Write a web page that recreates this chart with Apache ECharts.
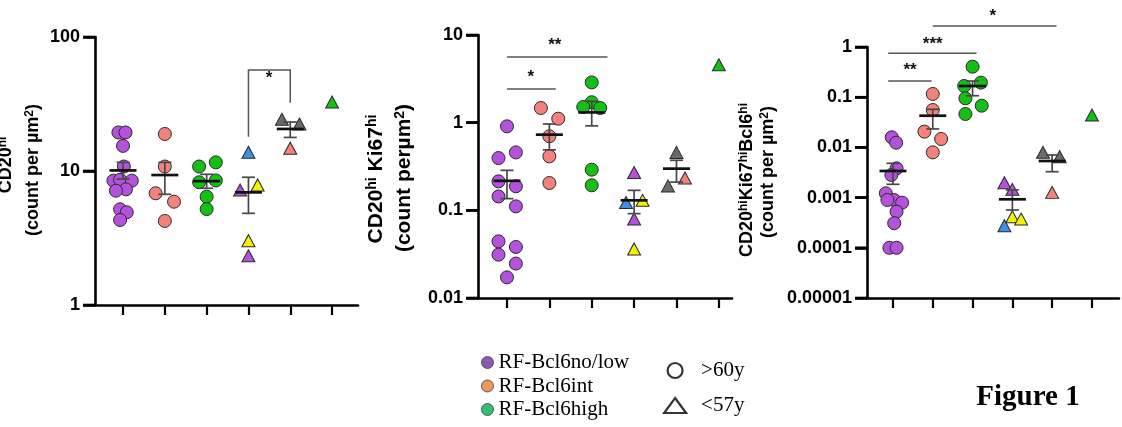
<!DOCTYPE html>
<html><head><meta charset="utf-8">
<script src="https://cdn.jsdelivr.net/npm/echarts@6/dist/echarts.min.js"></script>
<style>html,body{margin:0;padding:0;background:#fff}#c{width:1122px;height:427px}</style>
</head><body><div id="c"></div>
<script>
// ---------- data ----------
const groupNames = ['RF-Bcl6no/low', 'RF-Bcl6int', 'RF-Bcl6high'];
const ageNames = ['>60y', '<57y'];
const groupAge = [0, 0, 0, 1, 1, 1];           // 0 = >60y (circle), 1 = <57y (triangle)
const positions = [1, 2, 3, 4, 5, 6];

// Panel 1: CD20hi
const p1Ticks = ['1', '10', '100'];
const p1Values = [
  [19.4, 19.4, 15.4, 10.8, 8.47, 8.6, 8.47, 7.3, 7.13, 5.18, 4.92, 4.31],
  [18.9, 10.8, 6.82, 5.9, 4.24],
  [10.8, 11.6, 8.24, 8.5, 6.43, 5.2],
  [13.8, 7.21, 7.87, 3.02, 2.33],
  [24.3, 22.4, 14.8],
  [32.7]
];
const p1Jitter = [
  [-0.11, 0.06, 0, 0.02, -0.23, -0.07, 0.21, 0.07, -0.17, -0.07, 0.09, -0.07],
  [0, 0, -0.22, 0.22, 0],
  [-0.18, 0.22, -0.18, 0.22, 0, 0],
  [0, -0.2, 0.22, 0, 0],
  [-0.2, 0.22, 0],
  [0]
];
const p1Kinds = ['PPPPPPPPPPPP', 'SSSSS', 'GGGGGG', 'BPYYP', 'KKS', 'G'];
const p1Mean = [10.1, 9.33, 8.4, 6.93, 20.6];
const p1Lo = [8.7, 6.7, 7.43, 4.83, 17.8];
const p1Hi = [11.6, 11.6, 9.45, 8.98, 23.2];
const p1Brackets = [[4, 5, 56.7, 18.0, 32.3]];
const p1StarPos = [[4.49, 53]];
const p1StarText = ['*'];

// Panel 2: CD20hi Ki67hi
const p2Ticks = ['0.01', '0.1', '1', '10'];
const p2Values = [
  [0.908, 0.458, 0.395, 0.214, 0.188, 0.144, 0.111, 0.0443, 0.0382, 0.0312, 0.0247, 0.0172],
  [1.47, 1.11, 0.70, 0.413, 0.205],
  [2.88, 1.71, 1.51, 1.47, 0.291, 0.193],
  [0.27, 0.123, 0.13, 0.0798, 0.0363],
  [0.458, 0.19, 0.234],
  [4.58]
];
const p2Jitter = [
  [0, 0.21, -0.2, -0.2, 0.21, -0.2, 0.21, -0.2, 0.21, -0.2, 0.21, 0],
  [-0.2, 0.21, 0, 0, 0],
  [0, 0, -0.2, 0.2, 0, 0],
  [0, -0.19, 0.2, 0, 0],
  [0, -0.2, 0.2],
  [0]
];
const p2Kinds = ['PPPPPPPPPPPP', 'SSSSS', 'GGGGGG', 'PBYPY', 'KKS', 'G'];
const p2Mean = [0.217, 0.73, 1.31, 0.13, 0.299];
const p2Lo = [0.136, 0.49, 0.92, 0.0917, 0.21];
const p2Hi = [0.286, 0.966, 1.75, 0.169, 0.372];
const p2Brackets = [[1.0, 2.15, 2.42, 2.42, 2.42], [1.0, 3.37, 5.61, 5.61, 5.61]];
const p2StarPos = [[1.56, 3.69], [2.13, 8.45]];
const p2StarText = ['*', '**'];

// Panel 3: CD20hi Ki67hi Bcl6hi
const p3Ticks = ['0.00001', '0.0001', '0.001', '0.01', '0.1', '1'];
const p3Values = [
  [0.0159, 0.0124, 0.00383, 0.00282, 0.00122, 0.000895, 0.000895, 0.000794, 0.000525, 0.000309, 0.0001, 0.0001],
  [0.116, 0.0556, 0.0206, 0.0147, 0.00797],
  [0.405, 0.167, 0.195, 0.095, 0.0678, 0.0463],
  [0.00198, 0.00146, 0.000417, 0.000375, 0.000276],
  [0.00797, 0.00653, 0.00127],
  [0.0442]
];
const p3Jitter = [
  [-0.03, 0.08, 0.09, -0.04, -0.18, 0.03, -0.14, 0.23, 0.09, 0.03, -0.09, 0.09],
  [0, 0, -0.21, 0.21, 0],
  [0, -0.21, 0.21, -0.18, 0.23, -0.18],
  [-0.2, 0, 0, 0.22, -0.2],
  [-0.23, 0.19, 0],
  [0]
];
const p3Kinds = ['PPPPPPPPPPPP', 'SSSSS', 'GGGGGG', 'PPYYB', 'KKS', 'G'];
const p3Mean = [0.00339, 0.0428, 0.167, 0.000925, 0.00536];
const p3Lo = [0.00184, 0.0233, 0.107, 0.000566, 0.00328];
const p3Hi = [0.00482, 0.0574, 0.21, 0.00142, 0.00706];
const p3Brackets = [[0.88, 1.97, 0.21, 0.21, 0.21], [0.88, 3.10, 0.75, 0.75, 0.75], [2.0, 5.11, 2.62, 2.62, 2.62]];
const p3StarPos = [[1.43, 0.405], [2.0, 1.38], [3.51, 4.98]];
const p3StarText = ['**', '***', '*'];

// ---------- styles / layout ----------
const KIND_COLOR = { P: '#b452dc', S: '#f4827c', G: '#14c014', B: '#3f8fe6', Y: '#f2f200', K: '#6b6b6b' };
const LEGEND_COLOR = ['#7030a0', '#ed7d31', '#00b050'];
const SANS = '"Liberation Sans", Arial, sans-serif';
const SERIF = '"Liberation Serif", "Times New Roman", serif';

const panels = [
  { ticks: p1Ticks, values: p1Values, jitter: p1Jitter, kinds: p1Kinds, mean: p1Mean, lo: p1Lo, hi: p1Hi,
    brackets: p1Brackets, starPos: p1StarPos, starText: p1StarText,
    grid: { left: 95, top: 37, width: 263, height: 268 }, xr: [0.33, 6.62], yr: [1, 100] },
  { ticks: p2Ticks, values: p2Values, jitter: p2Jitter, kinds: p2Kinds, mean: p2Mean, lo: p2Lo, hi: p2Hi,
    brackets: p2Brackets, starPos: p2StarPos, starText: p2StarText,
    grid: { left: 478, top: 35, width: 254, height: 263 }, xr: [0.316, 6.31], yr: [0.01, 10] },
  { ticks: p3Ticks, values: p3Values, jitter: p3Jitter, kinds: p3Kinds, mean: p3Mean, lo: p3Lo, hi: p3Hi,
    brackets: p3Brackets, starPos: p3StarPos, starText: p3StarText,
    grid: { left: 867, top: 47, width: 252, height: 251 }, xr: [0.347, 6.68], yr: [0.00001, 1] }
];

const grids = [], xAxes = [], yAxes = [], series = [];
panels.forEach((p, pi) => {
  grids.push(Object.assign({ containLabel: false }, p.grid));
  const lmin = Math.log10(p.yr[0]);
  const decades = p.ticks.map((t, k) => Math.pow(10, lmin + k));
  xAxes.push({
    gridIndex: pi, type: 'value', min: p.xr[0], max: p.xr[1],
    axisLine: { show: true, onZero: false, lineStyle: { color: '#000', width: 2.6 } },
    axisTick: { show: true, customValues: positions, length: 10, lineStyle: { color: '#000', width: 2.2 } },
    axisLabel: { show: false }, splitLine: { show: false }
  });
  yAxes.push({
    gridIndex: pi, type: 'log', logBase: 10, min: p.yr[0], max: p.yr[1],
    axisLine: { show: true, lineStyle: { color: '#000', width: 2.6 } },
    axisTick: { show: true, interval: 0, customValues: decades, length: 12, lineStyle: { color: '#000', width: 2.6 } },
    splitLine: { show: false },
    axisLabel: {
      margin: 15, color: '#000', fontSize: 18, fontWeight: 'bold', fontFamily: SANS,
      formatter: v => p.ticks[Math.round(Math.log10(v) - lmin)] || ''
    }
  });
  // y tick marks at each decade, placed through the axis scales
  series.push({
    type: 'custom', xAxisIndex: pi, yAxisIndex: pi, z: 5, clip: false, silent: true,
    encode: { x: 0, y: 1 },
    data: decades.map(d => [p.xr[0], d]),
    renderItem: (params, api) => {
      const pt = api.coord([api.value(0), api.value(1)]);
      return { type: 'line', shape: { x1: pt[0] - 12, y1: pt[1], x2: pt[0], y2: pt[1] },
        style: { stroke: '#000', lineWidth: 2.6 } };
    }
  });
  // points
  p.values.forEach((vals, gi) => {
    const tri = groupAge[gi] === 1;
    series.push({
      type: 'scatter', xAxisIndex: pi, yAxisIndex: pi, z: 2,
      symbol: tri ? 'triangle' : 'circle', symbolSize: tri ? [13, 12] : 13,
      itemStyle: { borderColor: '#2a2a2a', borderWidth: 1, opacity: 1 },
      data: vals.map((v, k) => ({
        value: [positions[gi] + p.jitter[gi][k], v],
        itemStyle: { color: KIND_COLOR[p.kinds[gi][k]] }
      }))
    });
  });
  // mean + SEM
  series.push({
    type: 'custom', xAxisIndex: pi, yAxisIndex: pi, z: 4,
    encode: { x: 0, y: [1, 2, 3] },
    data: p.mean.map((m, gi) => [positions[gi], m, p.lo[gi], p.hi[gi]]),
    renderItem: (params, api) => {
      const x = api.value(0);
      const pm = api.coord([x, api.value(1)]);
      const pl = api.coord([x, api.value(2)]);
      const ph = api.coord([x, api.value(3)]);
      const eb = { stroke: '#474747', lineWidth: 1.7 };
      return { type: 'group', children: [
        { type: 'line', shape: { x1: pm[0], y1: pl[1], x2: pm[0], y2: ph[1] }, style: eb },
        { type: 'line', shape: { x1: pm[0] - 6.5, y1: pl[1], x2: pm[0] + 6.5, y2: pl[1] }, style: eb },
        { type: 'line', shape: { x1: pm[0] - 6.5, y1: ph[1], x2: pm[0] + 6.5, y2: ph[1] }, style: eb },
        { type: 'line', shape: { x1: pm[0] - 13.5, y1: pm[1], x2: pm[0] + 13.5, y2: pm[1] }, style: { stroke: '#111', lineWidth: 2.7 } }
      ] };
    }
  });
  // significance brackets
  series.push({
    type: 'custom', xAxisIndex: pi, yAxisIndex: pi, z: 4, clip: false,
    encode: { x: [0, 1], y: [2, 3, 4] },
    data: p.brackets,
    renderItem: (params, api) => {
      const a = api.coord([api.value(0), api.value(3)]);
      const b = api.coord([api.value(0), api.value(2)]);
      const c = api.coord([api.value(1), api.value(2)]);
      const d = api.coord([api.value(1), api.value(4)]);
      return { type: 'polyline', shape: { points: [a, b, c, d] }, style: { stroke: '#555', lineWidth: 1.5, fill: null } };
    }
  });
  // stars
  series.push({
    type: 'custom', xAxisIndex: pi, yAxisIndex: pi, z: 4, clip: false,
    encode: { x: 0, y: 1 },
    data: p.starPos,
    renderItem: (params, api) => {
      const pt = api.coord([api.value(0), api.value(1)]);
      return { type: 'text', x: pt[0], y: pt[1] + 4, style: {
        text: p.starText[params.dataIndex], align: 'center', verticalAlign: 'middle',
        fontSize: 17, fontWeight: 'bold', fontFamily: SANS, fill: '#111' } };
    }
  });
});

// legend dummy series
groupNames.concat(ageNames).forEach(n => series.push({ type: 'scatter', name: n, xAxisIndex: 0, yAxisIndex: 0, data: [] }));

const supRich = fs => ({ s: { fontSize: Math.round(fs * 0.68), fontWeight: 'bold', fontFamily: SANS, verticalAlign: 'top', fill: '#000' } });
function vText(x, y, text, fs) {
  return { type: 'text', x: x, y: y, rotation: Math.PI / 2, z: 10,
    style: { text: text, fontSize: fs, fontWeight: 'bold', fontFamily: SANS, fill: '#000',
      align: 'center', verticalAlign: 'middle', rich: supRich(fs) } };
}

const option = {
  animation: false,
  backgroundColor: '#fff',
  grid: grids, xAxis: xAxes, yAxis: yAxes, series: series,
  legend: [
    { orient: 'vertical', left: 481, top: 352, itemWidth: 12, itemHeight: 12, itemGap: 2.5, icon: 'circle',
      selectedMode: false, padding: 0,
      textStyle: { fontFamily: SERIF, fontSize: 21, color: '#000' },
      data: groupNames.map((n, i) => ({ name: n, itemStyle: { color: LEGEND_COLOR[i], borderColor: '#2f3b55', borderWidth: 1 } })) },
    { orient: 'vertical', left: 663, top: 360, itemWidth: 22, itemHeight: 15, itemGap: 14,
      selectedMode: false, padding: 0,
      textStyle: { fontFamily: SERIF, fontSize: 21, color: '#000', padding: [0, 0, 0, 10] },
      data: [
        { name: ageNames[0], icon: 'circle', itemStyle: { color: '#fff', borderColor: '#000', borderWidth: 2.2 } },
        { name: ageNames[1], icon: 'triangle', itemStyle: { color: '#fff', borderColor: '#000', borderWidth: 2.2 } }
      ] }
  ],
  graphic: [
    vText(6, 165, 'CD20{s|hi}', 18),
    vText(33, 170, '(count per µm{s|2})', 18),
    vText(376, 179, 'CD20{s|hi} Ki67{s|hi}', 21),
    vText(404, 178, '(count perµm{s|2})', 21),
    vText(747, 180, 'CD20{s|hi}Ki67{s|hi}Bcl6{s|hi}', 18),
    vText(768, 172, '(count per µm{s|2})', 18),
    { type: 'text', x: 1028, y: 398, style: { text: 'Figure 1', fontSize: 29, fontWeight: 'bold', fontFamily: SERIF,
      fill: '#000', align: 'center', verticalAlign: 'middle' } }
  ]
};
const chart = echarts.init(document.getElementById('c'), null, { renderer: 'canvas' });
chart.setOption(option);
</script></body></html>
